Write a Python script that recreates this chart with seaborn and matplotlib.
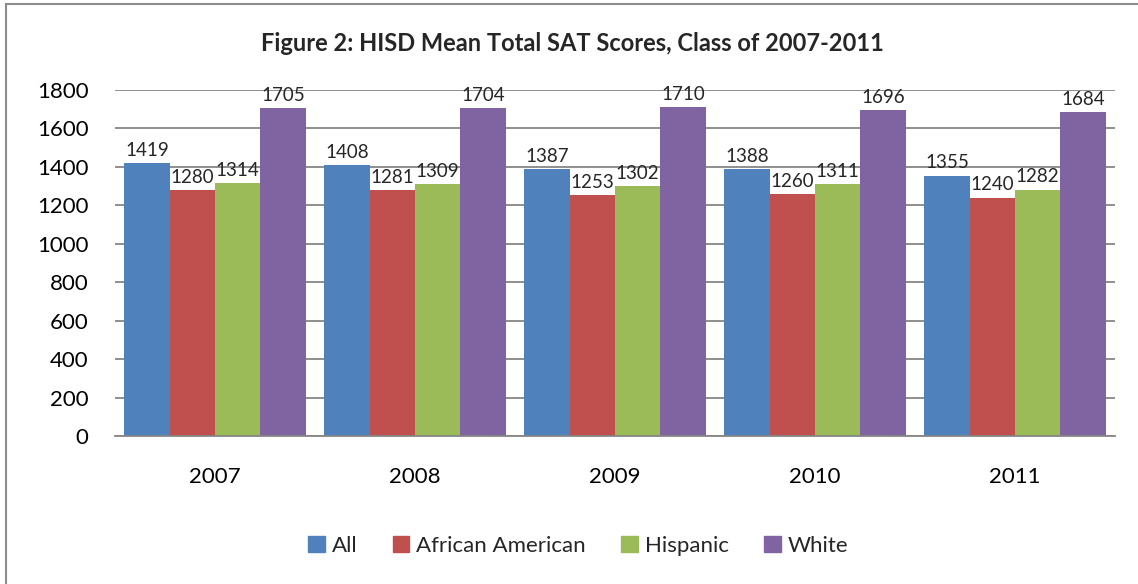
import pandas as pd
import seaborn as sns
import matplotlib.pyplot as plt
from matplotlib.patches import Rectangle

# values
years = ["2007", "2008", "2009", "2010", "2011"]
groups = ["All", "African American", "Hispanic", "White"]
all_students = [1419, 1408, 1387, 1388, 1355]
african_american = [1280, 1281, 1253, 1260, 1240]
hispanic = [1314, 1309, 1302, 1311, 1282]
white = [1705, 1704, 1710, 1696, 1684]
colors = ["#4F81BD", "#C0504D", "#9BBB59", "#8064A2"]

scores = [all_students, african_american, hispanic, white]
df = pd.DataFrame({
    "Year": years * len(groups),
    "Group": [g for g in groups for _ in years],
    "Score": [v for s in scores for v in s],
})

sns.set_style("white")
plt.rcParams["font.family"] = ["Lato", "DejaVu Sans"]

fig = plt.figure(figsize=(11.38, 5.84), dpi=100)
ax = fig.add_axes([0.1011, 0.2534, 0.8787, 0.5925])

sns.barplot(data=df, x="Year", y="Score", hue="Group", order=years,
            hue_order=groups, palette=colors, width=0.906, saturation=1,
            linewidth=0, ax=ax, legend=False)

ax.set_ylim(0, 1800)
ax.set_xlim(-0.5, len(years) - 0.5)
ax.set_yticks(range(0, 1801, 200))
ax.yaxis.grid(True, color="#868686", linewidth=1.3)
ax.set_axisbelow(True)
for s in ["top", "right", "left"]:
    ax.spines[s].set_visible(False)
ax.spines["bottom"].set_color("#868686")
ax.spines["bottom"].set_linewidth(1.3)
ax.tick_params(axis="both", length=0, labelsize=16, colors="black")
ax.tick_params(axis="x", pad=22)
ax.tick_params(axis="y", pad=19)
ax.set_xlabel("")
ax.set_ylabel("")

for c in ax.containers:
    ax.bar_label(c, fmt="%d", padding=3, fontsize=13.5)

fig.suptitle("Figure 2: HISD Mean Total SAT Scores, Class of 2007-2011",
             x=0.503, y=0.945, fontsize=17, fontweight="bold")

handles = [Rectangle((0, 0), 1, 1, color=c) for c in colors]
fig.legend(handles, groups, loc="center", bbox_to_anchor=(0.508, 0.065),
           ncol=4, frameon=False, fontsize=16, handlelength=0.75,
           handleheight=0.75, handletextpad=0.3, columnspacing=1.6)

# outer chart frame
fig.patches.append(Rectangle((6 / 1138, -0.1), 1.2, 1 - 4 / 584 + 0.1,
                             transform=fig.transFigure, fill=False,
                             edgecolor="#8c8c8c", linewidth=1.5))

fig.savefig("out.png", dpi=100)
